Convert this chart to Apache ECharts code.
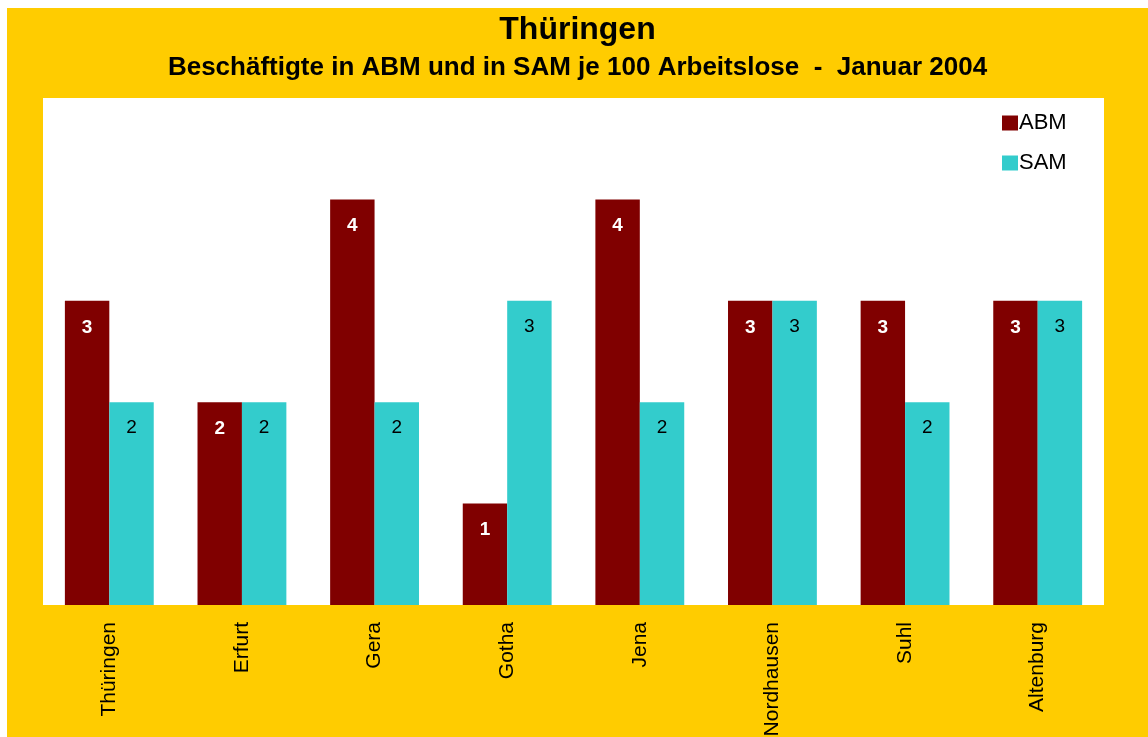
<!DOCTYPE html>
<html>
<head>
<meta charset="utf-8">
<script src="https://cdn.jsdelivr.net/npm/echarts@6/dist/echarts.min.js"></script>
<style>
  html, body { margin: 0; padding: 0; background: #fff; }
  #chart { position: absolute; left: 7px; top: 8px; width: 1141px; height: 729px; }
</style>
</head>
<body>
<div id="chart"></div>
<script>
const regions = ['Thüringen', 'Erfurt', 'Gera', 'Gotha', 'Jena', 'Nordhausen', 'Suhl', 'Altenburg'];
const abm = [3, 2, 4, 1, 4, 3, 3, 3];
const sam = [2, 2, 2, 3, 2, 3, 2, 3];

const font = '"Liberation Sans", Arial, sans-serif';
const myChart = echarts.init(document.getElementById('chart'));
myChart.setOption({
  backgroundColor: '#FFCC00',
  animation: false,
  title: [{
    text: 'Thüringen',
    left: 'center',
    top: 1,
    textStyle: { fontFamily: font, fontSize: 32, fontWeight: 'bold', color: '#000' }
  }, {
    text: 'Beschäftigte in ABM und in SAM je 100 Arbeitslose  -  Januar 2004',
    left: 'center',
    top: 42,
    textStyle: { fontFamily: font, fontSize: 26, fontWeight: 'bold', color: '#000' }
  }],
  legend: {
    orient: 'vertical',
    left: 990,
    top: 99,
    icon: 'rect',
    itemWidth: 16,
    itemHeight: 15,
    itemGap: 18,
    textStyle: { fontFamily: font, fontSize: 22, color: '#000', padding: [0, 0, 0, -4] },
    data: ['ABM', 'SAM']
  },
  grid: {
    left: 36, top: 90, width: 1061, height: 507,
    outerBoundsMode: 'none',
    show: true, backgroundColor: '#fff', borderWidth: 0
  },
  xAxis: {
    type: 'category',
    data: regions,
    axisLine: { show: false },
    axisTick: { show: false },
    axisLabel: {
      rotate: 90,
      margin: 17,
      interval: 0,
      fontFamily: font,
      fontSize: 21,
      color: '#000'
    }
  },
  yAxis: {
    type: 'value',
    min: 0,
    max: 5,
    show: false,
    splitLine: { show: false }
  },
  series: [{
    name: 'ABM',
    type: 'bar',
    data: abm,
    barGap: '0%',
    barCategoryGap: '33%',
    itemStyle: { color: '#800000' },
    label: {
      show: true,
      position: 'insideTop',
      distance: 17,
      fontFamily: font,
      fontSize: 19,
      fontWeight: 'bold',
      color: '#fff'
    }
  }, {
    name: 'SAM',
    type: 'bar',
    data: sam,
    itemStyle: { color: '#33CCCC' },
    label: {
      show: true,
      position: 'insideTop',
      distance: 16,
      fontFamily: font,
      fontSize: 19,
      color: '#000'
    }
  }]
});

window.addEventListener('resize', function() {
  myChart.resize();
});
</script>
</body>
</html>
